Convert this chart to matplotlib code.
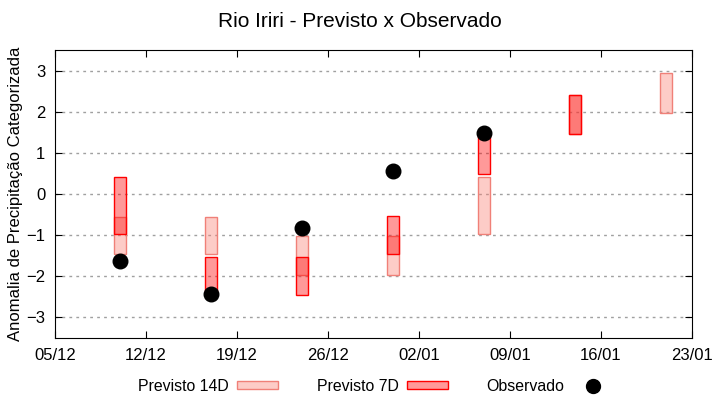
import pandas as pd
import numpy as np
import matplotlib
matplotlib.use('Agg')
import matplotlib.pyplot as plt
import matplotlib.dates as mdates
from matplotlib.patches import Patch
from matplotlib.lines import Line2D

plt.rcParams['font.family'] = ['Liberation Sans', 'DejaVu Sans']

# datas das previsoes
datas = pd.to_datetime(['2020-12-10', '2020-12-17', '2020-12-24', '2020-12-31',
                        '2021-01-07', '2021-01-14', '2021-01-21'])

# previsto 14 dias (limite inferior / superior)
p14_min = [-1.45, -1.45, -1.97, -1.97, -0.97, 1.47, 1.97]
p14_max = [-0.55, -0.55, -1.03, -1.03, 0.42, 2.40, 2.93]

# previsto 7 dias (sem valor para a ultima semana)
p7_min = [-0.97, -2.45, -2.46, -1.46, 0.48, 1.47, np.nan]
p7_max = [0.42, -1.53, -1.54, -0.54, 1.45, 2.40, np.nan]

# observado (sem valor nas duas ultimas semanas)
obs_datas = datas[:5]
obs = [-1.62, -2.43, -0.83, 0.55, 1.48]

ticks_x = pd.date_range('2020-12-05', '2021-01-23', freq='7D')

fig = plt.figure(figsize=(7.2, 4), dpi=100)
ax = fig.add_axes([55/720, 1-338/400, (692-55)/720, (338-50)/400])

largura = 0.92
ax.bar(datas, np.array(p14_max) - np.array(p14_min), bottom=p14_min, width=largura,
       facecolor=(0.98, 0.5, 0.45, 0.4), edgecolor='#f08078', linewidth=1.0, zorder=2)
ax.bar(datas, np.array(p7_max) - np.array(p7_min), bottom=p7_min, width=largura,
       facecolor=(1, 0, 0, 0.4), edgecolor='#ff0000', linewidth=1.0, zorder=3)
ax.scatter(obs_datas, obs, s=110, color='black', zorder=4)

ax.set_xlim(ticks_x[0], ticks_x[-1])
ax.set_ylim(-3.5, 3.5)
ax.set_xticks(ticks_x)
ax.xaxis.set_major_formatter(mdates.DateFormatter('%d/%m'))
ax.set_yticks([-3, -2, -1, 0, 1, 2, 3])
ax.tick_params(direction='in', top=True, right=True, length=5, labelsize=12, pad=7)
ax.grid(axis='y', linestyle=(0, (2, 3)), color='#a0a0a0', linewidth=1)
ax.set_axisbelow(True)
ax.set_ylabel('Anomalia de Precipitação Categorizada', fontsize=12, labelpad=2)

fig.suptitle('Rio Iriri - Previsto x Observado', fontsize=15, y=0.97)

handles = [Patch(facecolor=(0.98, 0.5, 0.45, 0.4), edgecolor='#f08078', linewidth=1.0),
           Patch(facecolor=(1, 0, 0, 0.4), edgecolor='#ff0000', linewidth=1.0),
           Line2D([], [], marker='o', color='black', linestyle='none', markersize=10)]
fig.legend(handles, ['Previsto 14D', 'Previsto 7D', 'Observado'], loc='center',
           bbox_to_anchor=(0.522, 0.034), ncol=3, frameon=False, markerfirst=False,
           fontsize=11.4, handlelength=2.6, handleheight=0.4, handletextpad=0.5,
           columnspacing=2.45)

plt.savefig('out.png')
